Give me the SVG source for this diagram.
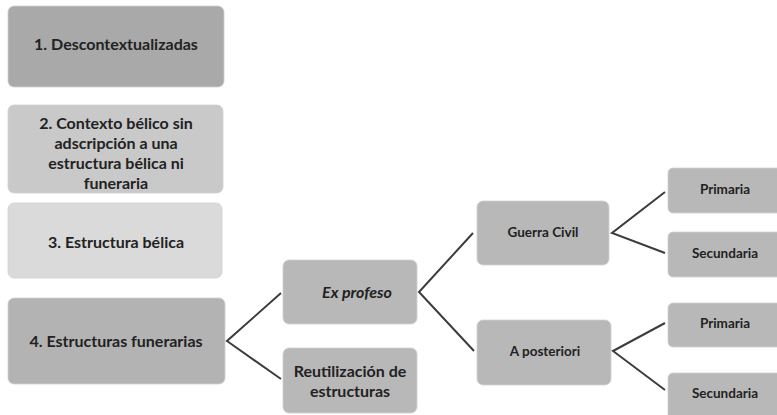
<svg xmlns="http://www.w3.org/2000/svg" width="777" height="415" viewBox="0 0 777 415">
<style>
.box{stroke:#d0d0d0;stroke-width:0.8}
.t{font-family:Lato,"Liberation Sans",sans-serif;font-weight:bold;fill:#222222;text-anchor:middle;dominant-baseline:central}
.l{font-size:16px}
.s{font-size:13.5px}
.c{stroke:#3c3c3c;stroke-width:2;fill:none;stroke-linejoin:miter}
</style>
<rect width="777" height="415" fill="#ffffff"/>
<g id="n1"><rect class="box" x="8" y="6" width="216" height="81" rx="6" fill="#a9a9a9"/><text class="t l" x="116" y="43">1. Descontextualizadas</text></g>
<g id="n2"><rect class="box" x="8" y="105" width="215" height="88" rx="6" fill="#c9c9c9"/><text class="t l" x="116"><tspan x="116" y="122">2. Contexto bélico sin</tspan><tspan x="116" y="142">adscripción a una</tspan><tspan x="116" y="162">estructura bélica ni</tspan><tspan x="116" y="182">funeraria</tspan></text></g>
<g id="n3"><rect class="box" x="8" y="203" width="214" height="75" rx="6" fill="#dadada"/><text class="t l" x="116" y="241">3. Estructura bélica</text></g>
<g id="n4"><rect class="box" x="8" y="298" width="217" height="86" rx="6" fill="#b3b3b3"/><text class="t l" x="116" y="340">4. Estructuras funerarias</text></g>
<g id="n5"><rect class="box" x="283" y="260" width="134" height="64" rx="6" fill="#b8b8b8"/><text class="t l" x="357" y="291" font-style="italic">Ex profeso</text></g>
<g id="n6"><rect class="box" x="283" y="348" width="134" height="65" rx="6" fill="#b8b8b8"/><text class="t l" x="350"><tspan x="350" y="370">Reutilización de</tspan><tspan x="350" y="390">estructuras</tspan></text></g>
<g id="n7"><rect class="box" x="477" y="201" width="132" height="64" rx="6" fill="#b8b8b8"/><text class="t s" x="543" y="232">Guerra Civil</text></g>
<g id="n8"><rect class="box" x="477" y="320" width="134" height="65" rx="6" fill="#b8b8b8"/><text class="t s" x="545" y="351">A posteriori</text></g>
<g id="n9"><rect class="box" x="668" y="168" width="120" height="45" rx="5" fill="#b8b8b8"/><text class="t s" x="725" y="189">Primaria</text></g>
<g id="n10"><rect class="box" x="668" y="232" width="120" height="45" rx="5" fill="#b8b8b8"/><text class="t s" x="725" y="253">Secundaria</text></g>
<g id="n11"><rect class="box" x="668" y="303" width="120" height="44" rx="5" fill="#b8b8b8"/><text class="t s" x="725" y="323">Primaria</text></g>
<g id="n12"><rect class="box" x="668" y="373" width="120" height="50" rx="5" fill="#b8b8b8"/><text class="t s" x="725" y="393">Secundaria</text></g>
<g id="connectors">
<polyline class="c" points="281,293 227,341 281,379"/>
<polyline class="c" points="473,233 419,292 474,351"/>
<polyline class="c" points="665,192 612,233 665,253"/>
<polyline class="c" points="665,323 613,351 665,390"/>
</g>
</svg>
